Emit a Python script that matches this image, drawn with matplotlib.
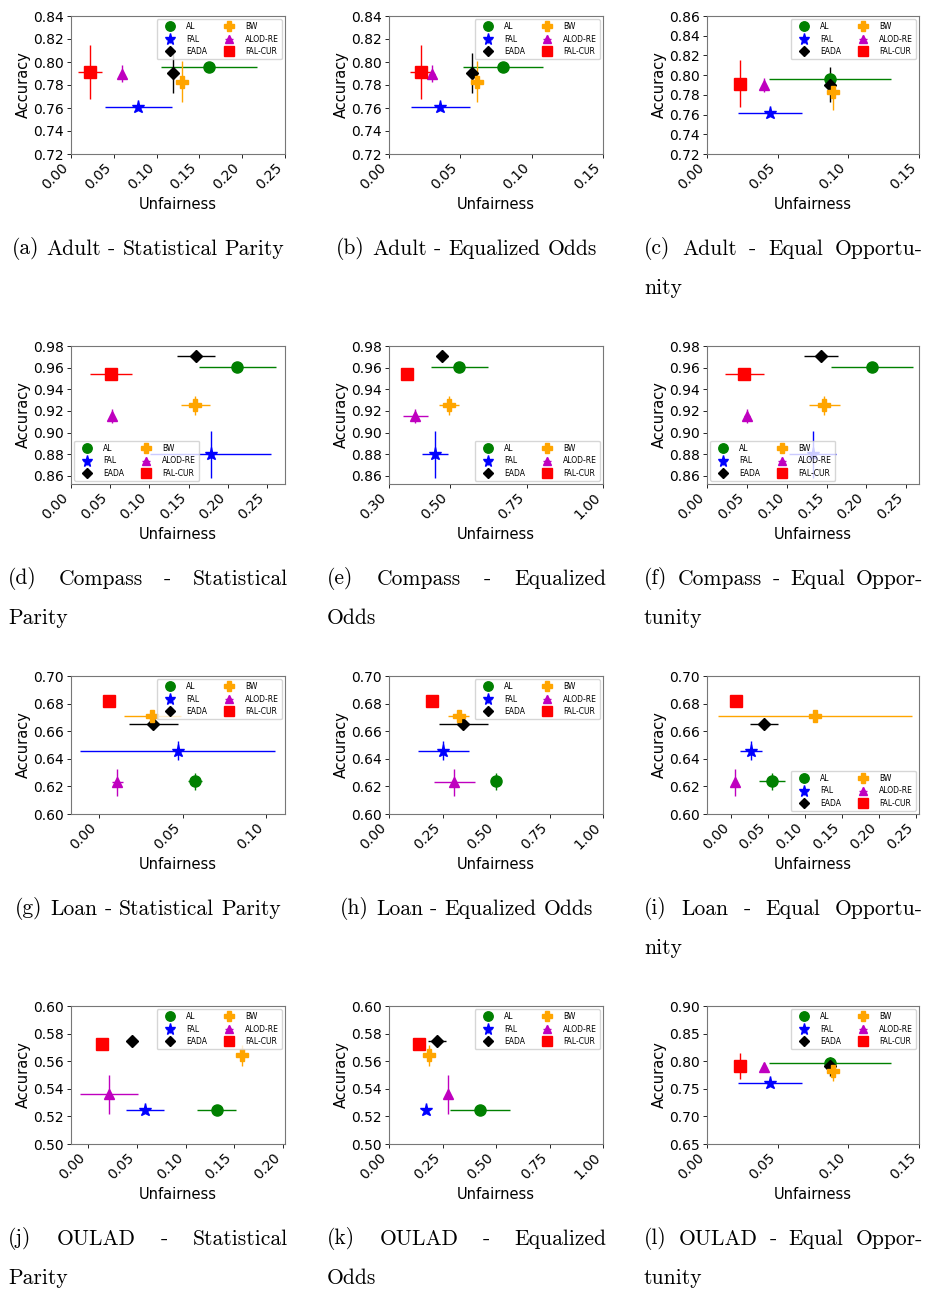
import matplotlib
matplotlib.use('Agg')
from matplotlib import pyplot as plt

# methods and styles
methods = ['AL', 'FAL', 'EADA', 'BW', 'ALOD-RE', 'FAL-CUR']
colors = ['green', 'blue', 'black', 'orange', 'm', 'red']
markers = ['o', '*', 'D', 'P', '^', 's']
msizes = [8, 9.5, 6, 8, 7.5, 8]

# accuracy (mean, std) per dataset
adult_acc = [0.796, 0.7613, 0.7905, 0.783, 0.790, 0.7915]
adult_acc_err = [0.002, 0.002, 0.0175, 0.018, 0.007, 0.0235]
compass_acc = [0.9608, 0.8798, 0.9711, 0.925, 0.9156, 0.9537]
compass_acc_err = [0.001, 0.0214, 0.001, 0.0084, 0.0065, 0.002]
loan_acc = [0.6236, 0.6459, 0.6652, 0.6709, 0.6229, 0.682]
loan_acc_err = [0.006, 0.007, 0.001, 0.0045, 0.0096, 0.001]
oulad_acc = [0.5248, 0.5243, 0.575, 0.5642, 0.536, 0.5728]
oulad_acc_err = [0.0025, 0.001, 0.001, 0.0075, 0.0142, 0.001]

# unfairness (mean, std) per panel
adult_sp = [0.1616, 0.0787, 0.1195, 0.1297, 0.0596, 0.0222]
adult_sp_err = [0.056, 0.0395, 0.001, 0.003, 0.002, 0.014]
adult_eo = [0.0798, 0.0358, 0.0583, 0.0616, 0.0302, 0.0225]
adult_eo_err = [0.028, 0.0207, 0.001, 0.001, 0.002, 0.008]
adult_eop = [0.0872, 0.0445, 0.087, 0.0891, 0.0403, 0.023]
adult_eop_err = [0.0432, 0.0225, 0.001, 0.001, 0.001, 0.001]
compass_sp = [0.2124, 0.1782, 0.1594, 0.1585, 0.0521, 0.0509]
compass_sp_err = [0.049, 0.077, 0.024, 0.0188, 0.001, 0.0267]
compass_eo = [0.5304, 0.4496, 0.4725, 0.4966, 0.3852, 0.36]
compass_eo_err = [0.094, 0.042, 0.002, 0.033, 0.041, 0.005]
compass_eop = [0.2071, 0.1324, 0.1433, 0.147, 0.0504, 0.047]
compass_eop_err = [0.051, 0.030, 0.0216, 0.0193, 0.004, 0.0246]
loan_sp = [0.0574, 0.047, 0.0324, 0.0318, 0.0108, 0.006]
loan_sp_err = [0.004, 0.0585, 0.0148, 0.017, 0.0035, 0.001]
loan_eo = [0.5008, 0.2543, 0.348, 0.326, 0.3058, 0.2012]
loan_eo_err = [0.005, 0.121, 0.113, 0.049, 0.094, 0.005]
loan_eop = [0.0553, 0.0267, 0.0439, 0.1128, 0.0054, 0.0063]
loan_eop_err = [0.0174, 0.015, 0.019, 0.131, 0.002, 0.002]
oulad_sp = [0.1318, 0.0582, 0.0445, 0.1582, 0.0212, 0.0137]
oulad_sp_err = [0.0197, 0.0197, 0.001, 0.001, 0.0298, 0.001]
oulad_eo = [0.426, 0.1732, 0.2231, 0.1856, 0.2777, 0.1404]
oulad_eo_err = [0.139, 0.004, 0.041, 0.015, 0.004, 0.01]
oulad_eop = [0.0872, 0.0445, 0.087, 0.0891, 0.0403, 0.023]
oulad_eop_err = [0.0432, 0.0225, 0.001, 0.001, 0.001, 0.001]
oulad_eop_acc = [0.796, 0.7613, 0.7905, 0.783, 0.790, 0.7915]
oulad_eop_acc_err = [0.002, 0.002, 0.0175, 0.018, 0.007, 0.0235]

captions = [
    ['(a) Adult - Statistical Parity'],
    ['(b) Adult - Equalized Odds'],
    ['(c) Adult - Equal Opportu-', 'nity'],
    ['(d) Compass - Statistical', 'Parity'],
    ['(e) Compass - Equalized', 'Odds'],
    ['(f) Compass - Equal Oppor-', 'tunity'],
    ['(g) Loan - Statistical Parity'],
    ['(h) Loan - Equalized Odds'],
    ['(i) Loan - Equal Opportu-', 'nity'],
    ['(j) OULAD - Statistical', 'Parity'],
    ['(k) OULAD - Equalized', 'Odds'],
    ['(l) OULAD - Equal Oppor-', 'tunity'],
]

panels = [
    (adult_sp, adult_sp_err, adult_acc, adult_acc_err),
    (adult_eo, adult_eo_err, adult_acc, adult_acc_err),
    (adult_eop, adult_eop_err, adult_acc, adult_acc_err),
    (compass_sp, compass_sp_err, compass_acc, compass_acc_err),
    (compass_eo, compass_eo_err, compass_acc, compass_acc_err),
    (compass_eop, compass_eop_err, compass_acc, compass_acc_err),
    (loan_sp, loan_sp_err, loan_acc, loan_acc_err),
    (loan_eo, loan_eo_err, loan_acc, loan_acc_err),
    (loan_eop, loan_eop_err, loan_acc, loan_acc_err),
    (oulad_sp, oulad_sp_err, oulad_acc, oulad_acc_err),
    (oulad_eo, oulad_eo_err, oulad_acc, oulad_acc_err),
    (oulad_eop, oulad_eop_err, oulad_eop_acc, oulad_eop_acc_err),
]

xlims = [(0, 0.25), (0, 0.15), (0, 0.15), (0, 0.273), (0.3, 1.0), (0, 0.266),
         (-0.017, 0.1114), (0, 1.0), (-0.033, 0.2536), (-0.0178, 0.202), (0, 1.0), (0, 0.15)]
xticks = [[0, .05, .1, .15, .2, .25], [0, .05, .1, .15], [0, .05, .1, .15],
          [0, .05, .1, .15, .2, .25], [.3, .5, .75, 1.0], [0, .05, .1, .15, .2, .25],
          [0, .05, .1], [0, .25, .5, .75, 1.0], [0, .05, .1, .15, .2, .25],
          [0, .05, .1, .15, .2], [0, .25, .5, .75, 1.0], [0, .05, .1, .15]]
ylims = [(0.72, 0.84), (0.72, 0.84), (0.72, 0.86), (0.8524, 0.98), (0.8524, 0.98), (0.8524, 0.98),
         (0.60, 0.70), (0.60, 0.70), (0.60, 0.70), (0.50, 0.60), (0.50, 0.60), (0.65, 0.90)]
yticks = [[.72, .74, .76, .78, .80, .82, .84], [.72, .74, .76, .78, .80, .82, .84],
          [.72, .74, .76, .78, .80, .82, .84, .86],
          [.86, .88, .90, .92, .94, .96, .98], [.86, .88, .90, .92, .94, .96, .98],
          [.86, .88, .90, .92, .94, .96, .98],
          [.60, .62, .64, .66, .68, .70], [.60, .62, .64, .66, .68, .70], [.60, .62, .64, .66, .68, .70],
          [.50, .52, .54, .56, .58, .60], [.50, .52, .54, .56, .58, .60],
          [.65, .70, .75, .80, .85, .90]]
legend_locs = ['upper right', 'upper right', 'upper right', 'lower left', 'lower right', 'lower left',
               'upper right', 'upper right', 'lower right', 'upper right', 'upper right', 'upper right']

W, H = 925, 1290
fig = plt.figure(figsize=(W / 100, H / 100), dpi=100)
col_left = [71, 389, 707]
col_w = [214, 214, 212]
row_top = [16, 346, 676, 1006]
ax_h = 138
cap_x = [(8, 288), (327, 606), (644, 923)]

renderer = fig.canvas.get_renderer()
cap_size = 15.5


def caption(lines, x0, x1, ytop):
    for li, line in enumerate(lines):
        y = 1 - (ytop + 233 + 39 * li) / H
        words = line.split()
        texts = [fig.text(0, y, w, family='cmr10', fontsize=cap_size, va='center', ha='left')
                 for w in words]
        widths = [t.get_window_extent(renderer).width for t in texts]
        if len(lines) > 1 and li == 0:
            gap = (x1 - x0 - sum(widths)) / (len(words) - 1)
            start = x0
        else:
            gap = cap_size * 100 / 72 * 0.333
            total = sum(widths) + gap * (len(words) - 1)
            start = (x0 + x1) / 2 - total / 2 if len(lines) == 1 else x0
        pos = start
        for t, wd in zip(texts, widths):
            t.set_x(pos / W)
            pos += wd + gap


for k in range(12):
    r, c = divmod(k, 3)
    ax = fig.add_axes([col_left[c] / W, 1 - (row_top[r] + ax_h) / H, col_w[c] / W, ax_h / H])
    ux, uxe, acc, acce = panels[k]
    for i in range(len(methods)):
        ax.errorbar(ux[i], acc[i], xerr=uxe[i], yerr=acce[i], fmt=markers[i], color=colors[i],
                    markersize=msizes[i], elinewidth=1.0, capsize=0, label=methods[i])
    ax.set_xlim(*xlims[k])
    ax.set_ylim(*ylims[k])
    ax.set_xticks(xticks[k])
    ax.set_xticklabels(['%.2f' % v for v in xticks[k]], rotation=45, ha='right',
                       rotation_mode='default', fontsize=10)
    ax.set_yticks(yticks[k])
    ax.set_yticklabels(['%.2f' % v for v in yticks[k]], fontsize=10)
    ax.set_xlabel('Unfairness', fontsize=10.5, labelpad=3)
    ax.set_ylabel('Accuracy', fontsize=10.5, labelpad=2)
    ax.tick_params(length=3, width=0.6, pad=2)
    for s in ax.spines.values():
        s.set_color('#777777')
        s.set_linewidth(0.8)
    ax.legend(loc=legend_locs[k], ncol=2, fontsize=5.5, handlelength=2.6, columnspacing=1.6,
              borderaxespad=0.4, labelspacing=0.45, markerscale=0.85)
    caption(captions[k], cap_x[c][0], cap_x[c][1], row_top[r])

fig.savefig('out.png', dpi=100)
